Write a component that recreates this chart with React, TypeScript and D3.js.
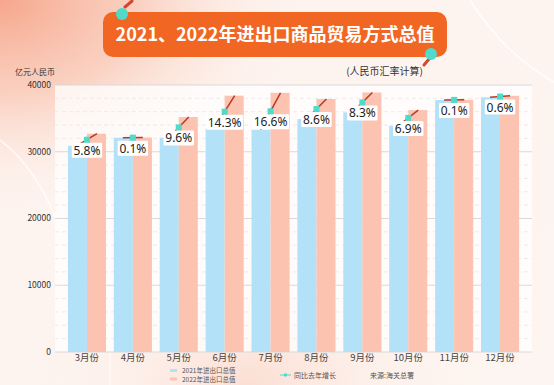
import React from 'react';
import * as d3 from 'd3';

const months = ['3月份', '4月份', '5月份', '6月份', '7月份', '8月份', '9月份', '10月份', '11月份', '12月份'];
const values2021 = [30900, 32100, 32100, 33600, 33300, 34900, 35900, 33900, 37750, 38150];
const values2022 = [32700, 32130, 35200, 38400, 38830, 37900, 38880, 36240, 37790, 38380];
const growthLabels = ['5.8%', '0.1%', '9.6%', '14.3%', '16.6%', '8.6%', '8.3%', '6.9%', '0.1%', '0.6%'];
const yTicks = [0, 10000, 20000, 30000, 40000];
const seriesNames = ['2021年进出口总值', '2022年进出口总值'];

const W = 554, H = 385;
const BLUE = '#b3e1f8';
const PINK = '#fbc3b0';
const TEAL = '#4fdac9';
const RED = '#b8392a';
const ORANGE = '#f26624';
const FONT = '"Noto Sans CJK SC", "Noto Sans", sans-serif';

export default function App() {
  const x = d3.scaleBand<string>().domain(months).range([64, 523]).paddingInner(0.17).paddingOuter(0.085);
  const sub = d3.scaleBand<number>().domain([0, 1]).range([0, x.bandwidth()]);
  const y = d3.scaleLinear().domain([0, 40000]).range([352, 85]);
  const minor = d3.range(0, 40001, 2000).filter((v) => v % 10000 !== 0);
  const gx0 = 55, gx1 = 532;

  return (
    <svg width={W} height={H} style={{ position: 'absolute', left: 0, top: 0, fontFamily: FONT }}>
      <defs>
        <linearGradient id="bg" x1="0" y1="0" x2="1" y2="1">
          <stop offset="0" stopColor="#fdf3ee" />
          <stop offset="1" stopColor="#fdf5f1" />
        </linearGradient>
        <radialGradient id="blob" cx="0.0" cy="0.0" r="0.55">
          <stop offset="0" stopColor="#f6a68b" stopOpacity="1" />
          <stop offset="0.45" stopColor="#f9c2ae" stopOpacity="0.7" />
          <stop offset="1" stopColor="#fdf1ec" stopOpacity="0" />
        </radialGradient>
        <radialGradient id="blob2" cx="0.45" cy="1.0" r="0.4">
          <stop offset="0" stopColor="#fbd9cc" stopOpacity="0.8" />
          <stop offset="1" stopColor="#fdf1ec" stopOpacity="0" />
        </radialGradient>
      </defs>
      <rect x={0} y={0} width={W} height={H} fill="url(#bg)" />
      <rect x={0} y={0} width={W} height={H} fill="url(#blob)" />
      <rect x={0} y={0} width={W} height={H} fill="url(#blob2)" />
      {/* decorative arcs */}
      <path d="M470,0 Q505,55 554,82" fill="none" stroke="#ffffff" strokeWidth={1.5} opacity={0.9} />
      <path d="M0,140 Q40,170 62,235" fill="none" stroke="#ffffff" strokeWidth={1.5} opacity={0.8} />
      <path d="M110,352 L110,385" fill="none" stroke="#ffffff" strokeWidth={1} opacity={0.8} />

      {/* title */}
      <rect x={103} y={12} width={344} height={45} rx={10} fill={ORANGE} />
      <text x={275} y={41} textAnchor="middle" fill="#ffffff" fontSize={18} fontWeight="bold">
        2021、2022年进出口商品贸易方式总值
      </text>
      <line x1={125} y1={7} x2={132} y2={1} stroke="#d9452a" strokeWidth={3} strokeLinecap="round" />
      <circle cx={122} cy={14} r={6} fill={TEAL} />
      <line x1={429} y1={59} x2={424} y2={65} stroke="#d9452a" strokeWidth={3} strokeLinecap="round" />
      <circle cx={431} cy={54} r={6} fill={TEAL} />

      <text x={15} y={75} fontSize={8} fill="#333">亿元人民币</text>
      <text x={423} y={75} textAnchor="end" fontSize={10} fill="#333">(人民币汇率计算)</text>

      {/* plot background */}
      <rect x={gx0} y={y(40000)} width={gx1 - gx0} height={y(0) - y(40000)} fill="#ffffff" opacity={0.75} />

      {/* grid */}
      {minor.map((v) => (
        <line key={'m' + v} x1={gx0} x2={gx1} y1={y(v)} y2={y(v)} stroke="#ececec" strokeWidth={1} strokeDasharray="4,3" />
      ))}
      {yTicks.map((v) => (
        <g key={'t' + v}>
          <line x1={gx0} x2={gx1} y1={y(v)} y2={y(v)} stroke="#d9d9d9" strokeWidth={1} />
          <text x={51} y={y(v)} dy="0.35em" textAnchor="end" fontSize={8.5} fill="#333">{v}</text>
        </g>
      ))}

      {/* bars */}
      {months.map((m, i) => (
        <g key={m}>
          <rect x={(x(m) as number) + (sub(0) as number)} y={y(values2021[i])} width={sub.bandwidth()} height={y(0) - y(values2021[i])} fill={BLUE} />
          <rect x={(x(m) as number) + (sub(1) as number)} y={y(values2022[i])} width={sub.bandwidth()} height={y(0) - y(values2022[i])} fill={PINK} />
        </g>
      ))}

      {/* x labels */}
      {months.map((m) => (
        <text key={'xl' + m} x={(x(m) as number) + x.bandwidth() / 2} y={361} textAnchor="middle" fontSize={9.5} fill="#444">{m}</text>
      ))}

      {/* growth line segments, markers and labels */}
      {months.map((m, i) => {
        const cx = (x(m) as number) + x.bandwidth() / 2;
        const y1 = y(values2021[i]);
        const y2 = y(values2022[i]);
        const my = (y1 + y2) / 2;
        const lbl = growthLabels[i];
        const tw = lbl.length * 6.6 + 4;
        return (
          <g key={'g' + m}>
            <line x1={cx - 10} y1={y1} x2={cx + 10} y2={y2} stroke={RED} strokeWidth={1.5} />
            <rect x={cx - tw / 2} y={my + 3} width={tw} height={15} fill="#ffffff" rx={1} />
            <text x={cx} y={my + 15} textAnchor="middle" fontSize={12} fill="#222" fontFamily='"Noto Sans", sans-serif'>{lbl}</text>
            <rect x={cx - 3} y={my - 3} width={6} height={6} fill={TEAL} />
          </g>
        );
      })}

      {/* legend */}
      <rect x={170} y={369} width={7} height={3} fill={BLUE} />
      <text x={182} y={372.5} fontSize={6.5} fill="#555">{seriesNames[0]}</text>
      <rect x={170} y={377.5} width={7} height={3} fill={PINK} />
      <text x={182} y={381.5} fontSize={6.5} fill="#555">{seriesNames[1]}</text>
      <line x1={280} y1={375} x2={291} y2={375} stroke={TEAL} strokeWidth={1} />
      <rect x={284} y={373.5} width={3} height={3} fill={TEAL} />
      <text x={294} y={377.5} fontSize={7} fill="#555">同比去年增长</text>
      <text x={370} y={377.5} fontSize={7} fill="#555">来源:海关总署</text>
    </svg>
  );
}
